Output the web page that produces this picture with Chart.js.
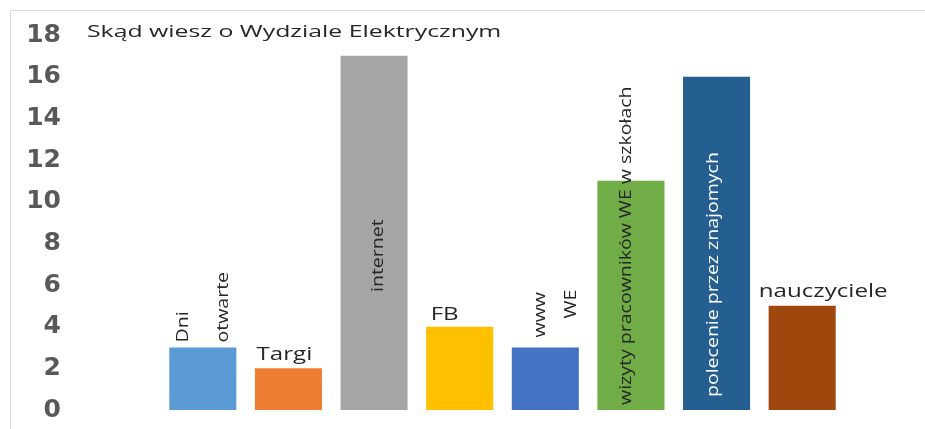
<!DOCTYPE html>
<html>
<head>
<meta charset="utf-8">
<script src="https://cdn.jsdelivr.net/npm/chart.js@4.4.1/dist/chart.umd.min.js"></script>
<style>
  html, body { margin: 0; padding: 0; background: #fff; overflow: hidden; }
  canvas { display: block; }
</style>
</head>
<body>
<canvas id="myChart" width="925" height="429" style="width:925px;height:429px"></canvas>
<script>
const ctx = document.getElementById('myChart');

// dane
const tytul = 'Skąd wiesz o Wydziale Elektrycznym';
const kategorie = ['Dni otwarte', 'Targi', 'internet', 'FB', 'www WE',
  'wizyty pracowników WE w szkołach', 'polecenie przez znajomych', 'nauczyciele'];
const wartosci = [3, 2, 17, 4, 3, 11, 16, 5];
const kolory = ['#5B9BD5', '#ED7D31', '#A5A5A5', '#FFC000', '#4472C4', '#70AD47', '#255E91', '#9E480E'];
const osY = { min: 0, max: 18, krok: 2 };

// jak rysowac etykiety przy slupkach (pozycja wzgledem slupka)
// rot: tekst pionowy, od: 'top' albo 'base', dx/dy w px
const etykiety = [
  { linie: ['Dni', 'otwarte'], rot: true, od: 'top', dx: [-15, 25], dy: [-5, -5] },
  { linie: ['Targi'], rot: false, od: 'top', dx: [-4], dy: [-8] },
  { linie: ['internet'], rot: true, od: 'base', dx: [9], dy: [-118] },
  { linie: ['FB'], rot: false, od: 'top', dx: [-15], dy: [-7] },
  { linie: ['www', 'WE'], rot: true, od: 'top', dx: [0, 31], dy: [-10, -29] },
  { linie: ['wizyty pracowników WE w szkołach'], rot: true, od: 'base', dx: [0], dy: [-5] },
  { linie: ['polecenie przez znajomych'], rot: true, od: 'base', dx: [1], dy: [-13], kolor: '#ffffff' },
  { linie: ['nauczyciele'], rot: false, od: 'top', dx: [21], dy: [-9] }
];

const pluginEtykiety = {
  id: 'etykiety',
  beforeDraw(chart) {
    const c = chart.ctx;
    c.save();
    // ramka
    c.strokeStyle = '#d9d9d9';
    c.lineWidth = 1;
    c.beginPath();
    c.moveTo(10.5, 429);
    c.lineTo(10.5, 10.5);
    c.lineTo(925, 10.5);
    c.stroke();
    // tytul
    c.fillStyle = '#262626';
    c.font = '17px "Open Sans"';
    c.textBaseline = 'alphabetic';
    c.textAlign = 'left';
    c.translate(87, 37);
    c.scale(1.46, 1);
    c.fillText(tytul, 0, 0);
    c.restore();
  },
  afterDatasetsDraw(chart) {
    const c = chart.ctx;
    const meta = chart.getDatasetMeta(0);
    const base = chart.scales.y.getPixelForValue(0);
    c.save();
    c.textBaseline = 'alphabetic';
    meta.data.forEach((bar, i) => {
      const e = etykiety[i];
      const y0 = e.od === 'top' ? bar.y : base;
      e.linie.forEach((t, j) => {
        c.save();
        c.fillStyle = e.kolor || '#262626';
        if (e.rot) {
          c.font = '16px "Open Sans"';
          c.textAlign = 'left';
          c.translate(bar.x + e.dx[j], y0 + e.dy[j]);
          c.rotate(-Math.PI / 2);
          c.scale(1.22, 1);
        } else {
          c.font = '18px "Open Sans"';
          c.textAlign = 'center';
          c.translate(bar.x + e.dx[j], y0 + e.dy[j]);
          c.scale(1.34, 1);
        }
        c.fillText(t, 0, 0);
        c.restore();
      });
    });
    c.restore();
  }
};

new Chart(ctx, {
  type: 'bar',
  data: {
    labels: kategorie,
    datasets: [{
      data: wartosci,
      backgroundColor: kolory,
      borderWidth: 0,
      barPercentage: 0.9,
      categoryPercentage: 0.87
    }]
  },
  options: {
    responsive: false,
    animation: false,
    events: [],
    layout: { padding: { top: 35, bottom: 19, left: 0, right: 80 } },
    plugins: {
      legend: { display: false },
      title: { display: false },
      tooltip: { enabled: false }
    },
    scales: {
      x: { display: false },
      y: {
        min: osY.min,
        max: osY.max,
        grid: { display: false },
        border: { display: false },
        ticks: {
          stepSize: osY.krok,
          padding: 91,
          color: '#595959',
          font: { family: 'DejaVu Sans', size: 25, weight: 'bold' }
        },
        afterFit(scale) {
          scale.width = 160;
          scale.paddingTop = 0;
          scale.paddingBottom = 0;
        }
      }
    }
  },
  plugins: [pluginEtykiety]
});
</script>
</body>
</html>
